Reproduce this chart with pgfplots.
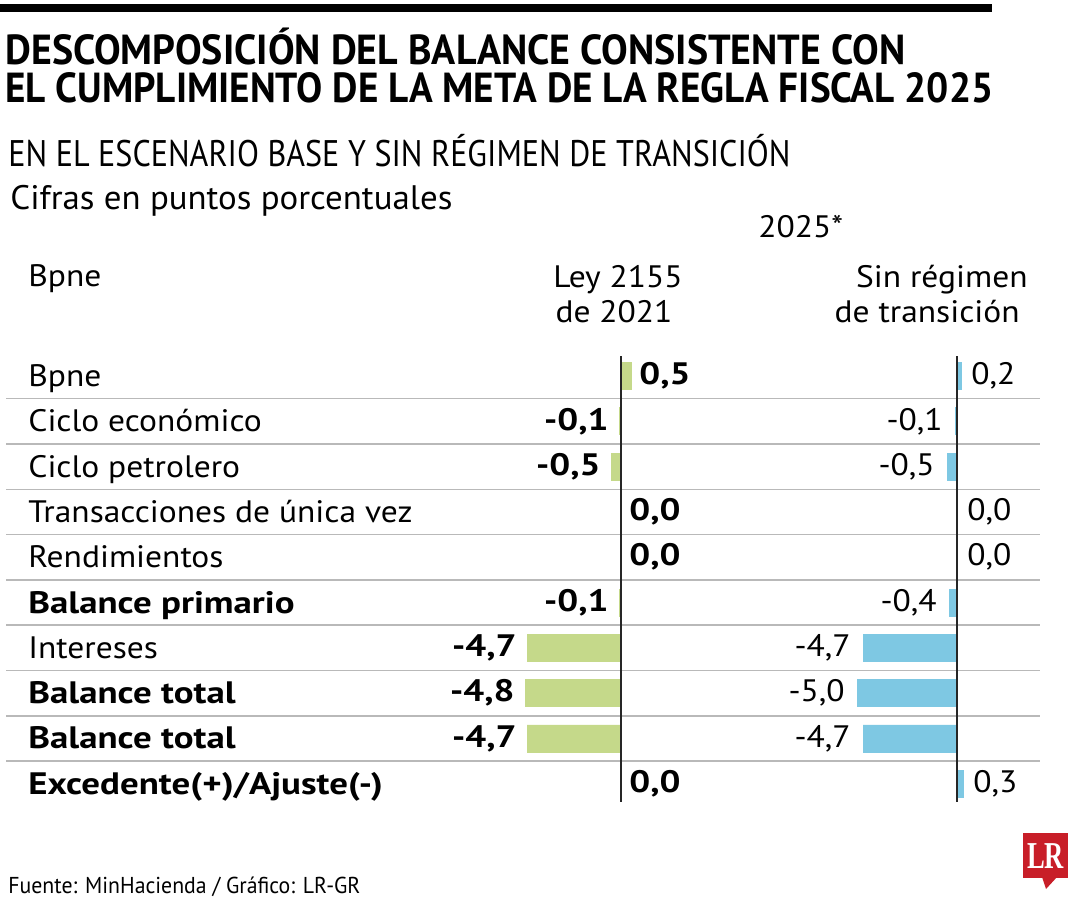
\documentclass[border=0pt]{standalone}
\usepackage{pgfplots}
\pgfplotsset{compat=1.18}
\usepackage{pgfplotstable}
\usepackage{fontspec}
\setmainfont{PT Sans}
\newfontfamily\rowreg{PT Sans}[FakeStretch=1.08]
\newfontfamily\rowbold{PT Sans}[FakeStretch=1.19]
\newfontfamily\logofont{Liberation Serif}
\usepackage{graphicx}
\definecolor{lrgreen}{RGB}{197,217,138}
\definecolor{lrblue}{RGB}{126,200,227}
\definecolor{lrred}{RGB}{200,30,40}
\definecolor{sepgray}{RGB}{185,185,185}

\pgfplotstableread{
row val label
0 0.5 0,5
3 0.0 0,0
4 0.0 0,0
9 0.0 0,0
}\leypos
\pgfplotstableread{
row val label
1 -0.1 -0,1
2 -0.5 -0,5
5 -0.1 -0,1
6 -4.7 -4,7
7 -4.8 -4,8
8 -4.7 -4,7
}\leyneg
\pgfplotstableread{
row val label
0 0.2 0,2
3 0.0 0,0
4 0.0 0,0
9 0.3 0,3
}\sinpos
\pgfplotstableread{
row val label
1 -0.1 -0,1
2 -0.5 -0,5
5 -0.4 -0,4
6 -4.7 -4,7
7 -5.0 -5,0
8 -4.7 -4,7
}\sinneg

\pgfplotsset{rowbars/.style={
  anchor=origin, x=10pt, y=22.65pt, y dir=reverse,
  xmin=-6, xmax=2, ymin=-0.6, ymax=9.6, hide axis, clip=false,
  xbar, bar width=13.5pt,
  point meta=explicit symbolic, nodes near coords,
}}

\newcommand{\rowfont}{\rowreg\fontsize{15.5}{16}\selectfont}
\newcommand{\boldfont}{\rowbold\fontsize{15.5}{16}\selectfont\bfseries}

\begin{document}
\begin{tikzpicture}[x=0.5pt,y=-0.5pt]
\path[use as bounding box] (0,0) rectangle (1080,900);
% top rule
\fill (0,4) rectangle (992,12);
% titles
\node[anchor=base west, inner sep=0pt] at (5,64) {\resizebox{450pt}{\height}{\fontsize{21}{21}\selectfont\bfseries DESCOMPOSICIÓN DEL BALANCE CONSISTENTE CON}};
\node[anchor=base west, inner sep=0pt] at (5,102) {\resizebox{494pt}{\height}{\fontsize{21}{21}\selectfont\bfseries EL CUMPLIMIENTO DE LA META DE LA REGLA FISCAL 2025}};
\node[anchor=base west, inner sep=0pt] at (8,166) {\resizebox{391pt}{\height}{\fontsize{18.5}{19}\selectfont EN EL ESCENARIO BASE Y SIN RÉGIMEN DE TRANSICIÓN}};
\node[anchor=base west, inner sep=0pt] at (10,209) {\resizebox{221pt}{\height}{\fontsize{17}{18}\selectfont Cifras en puntos porcentuales}};
% column heads
\node[anchor=base west, inner sep=0pt, font=\rowfont] at (758,237) {2025*};
\node[anchor=base west, inner sep=0pt, font=\rowfont] at (28,286) {Bpne};
\node[anchor=base, inner sep=0pt, font=\rowfont] at (618,287) {Ley 2155};
\node[anchor=base, inner sep=0pt, font=\rowfont] at (614,322) {de 2021};
\node[anchor=base east, inner sep=0pt, font=\rowfont] at (1028,287) {Sin régimen};
\node[anchor=base east, inner sep=0pt, font=\rowfont] at (1020,322) {de transición};
% separators
\foreach \i in {0,...,8} {
  \draw[sepgray, line width=0.75pt] (6,{376+45.3*(\i+0.5)}) -- (1040,{376+45.3*(\i+0.5)});
}
% row labels
\foreach \lab [count=\i from 0] in {Bpne,Ciclo económico,Ciclo petrolero,Transacciones de única vez,Rendimientos,{\boldfont Balance primario},Intereses,{\boldfont Balance total},{\boldfont Balance total},{\boldfont Excedente(+)/Ajuste(-)}} {
  \node[anchor=base west, inner sep=0pt, font=\rowfont] at (28,{376+45.3*\i+10.5}) {\lab};
}
% left bars
\begin{axis}[rowbars, at={(310.5pt,-188pt)}]
\addplot[fill=lrgreen, draw=lrgreen, line width=0.4pt, bar shift=0pt,
  every node near coord/.append style={anchor=west, inner sep=4pt, font=\boldfont}]
  table[x=val, y=row, meta=label] {\leypos};
\addplot[fill=lrgreen, draw=lrgreen, line width=0.4pt, bar shift=0pt,
  every node near coord/.append style={anchor=east, inner sep=5pt, font=\boldfont}]
  table[x=val, y=row, meta=label] {\leyneg};
\end{axis}
% right bars
\begin{axis}[rowbars, at={(478.5pt,-188pt)}]
\addplot[fill=lrblue, draw=lrblue, line width=0.4pt, bar shift=0pt,
  every node near coord/.append style={anchor=west, inner sep=5pt, font=\rowfont}]
  table[x=val, y=row, meta=label] {\sinpos};
\addplot[fill=lrblue, draw=lrblue, line width=0.4pt, bar shift=0pt,
  every node near coord/.append style={anchor=east, inner sep=6pt, font=\rowfont}]
  table[x=val, y=row, meta=label] {\sinneg};
\end{axis}
% zero lines
\draw[black!85, line width=0.6pt] (621,356) -- (621,802);
\draw[black!85, line width=0.6pt] (957,356) -- (957,802);
% footer
\node[anchor=base west, inner sep=0pt] at (8,893) {\resizebox{176pt}{\height}{\fontsize{11.5}{12}\selectfont Fuente: MinHacienda / Gráfico: LR-GR}};
% logo
\fill[lrred] (1023,833) rectangle (1068,878);
\fill[lrred] (1042,877) -- (1057,877) -- (1046,889) -- cycle;
\node[white, inner sep=0pt] at (1045.5,856) {\resizebox{18.5pt}{\height}{\logofont\bfseries\fontsize{19}{19}\selectfont LR}};
\end{tikzpicture}
\end{document}
